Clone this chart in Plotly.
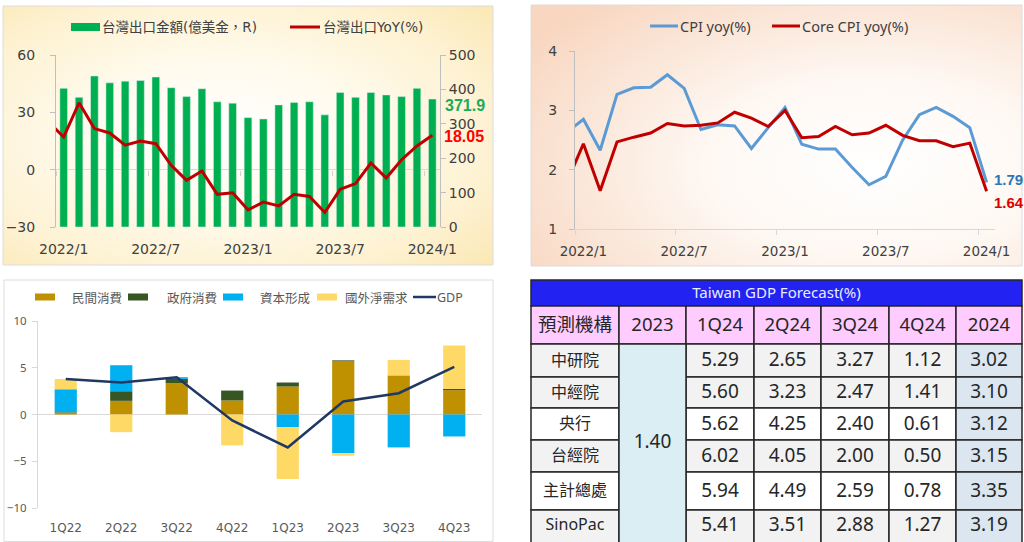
import base64
import plotly.graph_objects as go

W, H = 1024, 542


def px(x):
    return x / W


def py(y):
    return 1 - y / H


# ------------------------------------------------------------------ data
# Panel 1: Taiwan exports
export_months = ["2022/1", "2022/2", "2022/3", "2022/4", "2022/5", "2022/6", "2022/7",
                 "2022/8", "2022/9", "2022/10", "2022/11", "2022/12", "2023/1", "2023/2",
                 "2023/3", "2023/4", "2023/5", "2023/6", "2023/7", "2023/8", "2023/9",
                 "2023/10", "2023/11", "2023/12", "2024/1"]
export_value = [403, 377, 439, 419, 424, 426, 436, 405, 379, 402, 364, 360, 318, 314,
                355, 362, 364, 326, 391, 377, 391, 384, 379, 403, 371.9]
# YoY series starts one month earlier (2021/12), its first segment is clipped by the axis
export_yoy_prev = 25.0
export_yoy = [17.1, 35.0, 21.5, 19.2, 12.8, 15.0, 13.6, 2.3, -5.6, -0.7, -12.9, -12.1,
              -21.0, -17.0, -19.0, -12.9, -14.0, -22.4, -10.3, -7.3, 3.5, -4.4, 5.2, 12.4, 18.05]
month_tick_labels = ["2022/1", "2022/7", "2023/1", "2023/7", "2024/1"]

# Panel 2: CPI
cpi_prev, core_prev = 2.63, 1.78
cpi_yoy = [2.85, 2.33, 3.27, 3.38, 3.39, 3.60, 3.37, 2.68, 2.76, 2.74, 2.36, 2.71,
           3.05, 2.43, 2.35, 2.35, 2.04, 1.75, 1.89, 2.50, 2.93, 3.05, 2.90, 2.71, 1.79]
core_cpi_yoy = [2.44, 1.65, 2.47, 2.55, 2.62, 2.78, 2.74, 2.75, 2.79, 2.97, 2.87, 2.73,
                3.00, 2.54, 2.56, 2.73, 2.59, 2.62, 2.75, 2.58, 2.49, 2.49, 2.39, 2.45, 1.64]

# Panel 3: GDP contribution
quarters = ["1Q22", "2Q22", "3Q22", "4Q22", "1Q23", "2Q23", "3Q23", "4Q23"]
private_consumption = [0.20, 1.46, 3.35, 1.50, 2.99, 5.69, 4.13, 2.60]
government_consumption = [0.05, 1.03, 0.46, 1.06, 0.43, 0.10, 0.04, 0.14]
capital_formation = [2.45, 2.78, 0.18, 0.00, -1.35, -4.13, -3.52, -2.35]
net_external_demand = [1.10, -1.89, 0.00, -3.30, -5.55, -0.28, 1.67, 4.63]
gdp_growth = [3.80, 3.42, 3.99, -0.64, -3.52, 1.39, 2.28, 5.09]

# Panel 4: forecast table
table_title = "Taiwan GDP Forecast(%)"
table_header = ["預測機構", "2023", "1Q24", "2Q24", "3Q24", "4Q24", "2024"]
institutions = ["中研院", "中經院", "央行", "台經院", "主計總處", "SinoPac"]
gdp_2023 = 1.40
f_1q24 = [5.29, 5.60, 5.62, 6.02, 5.94, 5.41]
f_2q24 = [2.65, 3.23, 4.25, 4.05, 4.49, 3.51]
f_3q24 = [3.27, 2.47, 2.40, 2.00, 2.59, 2.88]
f_4q24 = [1.12, 1.41, 0.61, 0.50, 0.78, 1.27]
f_2024 = [3.02, 3.10, 3.12, 3.15, 3.35, 3.19]

# ------------------------------------------------------------------ styles
CJK = "Noto Sans CJK TC"
SANS = "Noto Sans, Noto Sans CJK TC, sans-serif"
DJV = "DejaVu Sans, Noto Sans CJK TC, sans-serif"
GREEN = "#00b050"
DRED = "#c00000"
CPI_BLUE = "#5b9bd5"

fig = go.Figure()

# ------------------------------------------------------------------ panel 1
n = len(export_value)
xm = list(range(n))
xl = [-1] + xm
tickpos = list(range(0, n, 6))

fig.add_trace(go.Bar(x=xm, y=export_value, xaxis="x", yaxis="y", marker_color=GREEN,
                     width=0.5, showlegend=False, hoverinfo="skip"))
fig.add_trace(go.Scatter(x=xl, y=[export_yoy_prev] + export_yoy, xaxis="x3", yaxis="y2",
                         mode="lines", line=dict(color=DRED, width=3),
                         showlegend=False, hoverinfo="skip"))

# ------------------------------------------------------------------ panel 2
fig.add_trace(go.Scatter(x=xl, y=[cpi_prev] + cpi_yoy, xaxis="x2", yaxis="y3", mode="lines",
                         line=dict(color=CPI_BLUE, width=3), showlegend=False, hoverinfo="skip"))
fig.add_trace(go.Scatter(x=xl, y=[core_prev] + core_cpi_yoy, xaxis="x2", yaxis="y3", mode="lines",
                         line=dict(color=DRED, width=3), showlegend=False, hoverinfo="skip"))

# ------------------------------------------------------------------ panel 3
xq = list(range(len(quarters)))
for vals, col in [(private_consumption, "#bf9000"), (government_consumption, "#375623"),
                  (capital_formation, "#00b0f0"), (net_external_demand, "#ffd966")]:
    fig.add_trace(go.Bar(x=xq, y=vals, xaxis="x4", yaxis="y4", marker_color=col,
                         marker_line_width=0, width=0.4, showlegend=False, hoverinfo="skip"))
fig.add_trace(go.Scatter(x=xq, y=gdp_growth, xaxis="x4", yaxis="y4", mode="lines",
                         line=dict(color="#1f3864", width=2.5), showlegend=False, hoverinfo="skip"))

# ------------------------------------------------------------------ panel 4 (table)
col_edges = [531, 619, 686, 754, 821, 889, 956, 1022]
title_band = (280, 306)
header_band = (306, 344)
row_edges = [344, 377, 408, 440, 472, 510, 545]
BORDER = "#262626"
row_fill = ["#f2f2f2", "#f2f2f2", "#ffffff", "#f2f2f2", "#ffffff", "#f2f2f2"]

shapes = []


def cell(x0, y0, x1, y1, fill, lw=1.5):
    shapes.append(dict(type="rect", xref="x5", yref="y5", x0=x0, x1=x1, y0=y0, y1=y1,
                       fillcolor=fill, line=dict(color=BORDER, width=lw), layer="below"))


cell(col_edges[0], title_band[0], col_edges[-1], title_band[1], "#2222f2")
for i in range(len(table_header)):
    cell(col_edges[i], header_band[0], col_edges[i + 1], header_band[1], "#ffccff")
for r in range(len(institutions)):
    y0, y1 = row_edges[r], row_edges[r + 1]
    cell(col_edges[0], y0, col_edges[1], y1, row_fill[r])
    for c in range(2, 6):
        cell(col_edges[c], y0, col_edges[c + 1], y1, row_fill[r])
    cell(col_edges[6], y0, col_edges[7], y1, "#dce6f1")
cell(col_edges[1], row_edges[0], col_edges[2], row_edges[-1], "#daeef3")

cx = [(col_edges[i] + col_edges[i + 1]) / 2 for i in range(len(col_edges) - 1)]
ry = [(row_edges[i] + row_edges[i + 1]) / 2 + 1 for i in range(len(row_edges) - 1)]
ry[-1] = (row_edges[-2] + 540) / 2 + 1
TXT = "#262626"

fig.add_trace(go.Scatter(x=[(col_edges[0] + col_edges[-1]) / 2], y=[sum(title_band) / 2 + 1],
                         text=[table_title], mode="text", xaxis="x5", yaxis="y5",
                         textfont=dict(family=SANS, size=15, color="#e8eeff"),
                         showlegend=False, hoverinfo="skip"))
fig.add_trace(go.Scatter(x=cx, y=[sum(header_band) / 2 + 1] * len(cx), text=table_header,
                         mode="text", xaxis="x5", yaxis="y5",
                         textfont=dict(family=SANS, size=18.5, color=TXT),
                         showlegend=False, hoverinfo="skip"))
fig.add_trace(go.Scatter(x=[cx[0]] * len(institutions), y=ry, text=institutions,
                         mode="text", xaxis="x5", yaxis="y5",
                         textfont=dict(family=SANS, size=16, color=TXT),
                         showlegend=False, hoverinfo="skip"))
fig.add_trace(go.Scatter(x=[cx[1]], y=[(row_edges[0] + 542) / 2], text=[f"{gdp_2023:.2f}"],
                         mode="text", xaxis="x5", yaxis="y5",
                         textfont=dict(family=SANS, size=19, color=TXT),
                         showlegend=False, hoverinfo="skip"))
for j, vals in enumerate([f_1q24, f_2q24, f_3q24, f_4q24, f_2024]):
    fig.add_trace(go.Scatter(x=[cx[j + 2]] * len(vals), y=ry, text=[f"{v:.2f}" for v in vals],
                             mode="text", xaxis="x5", yaxis="y5",
                             textfont=dict(family=SANS, size=19, color=TXT),
                             showlegend=False, hoverinfo="skip"))

# ------------------------------------------------------------------ frames & legends
for (x0, y0, x1, y1) in [(3, 6, 493, 265), (531, 5, 1022, 266), (4, 280, 493, 541.5)]:
    shapes.append(dict(type="rect", xref="paper", yref="paper", x0=px(x0), x1=px(x1),
                       y0=py(y1), y1=py(y0), line=dict(color="#dcdcdc", width=1),
                       fillcolor="rgba(0,0,0,0)", layer="below"))

annotations = []


def legend_patch(x0, x1, yc, h, color):
    shapes.append(dict(type="rect", xref="paper", yref="paper", x0=px(x0), x1=px(x1),
                       y0=py(yc + h / 2), y1=py(yc - h / 2), fillcolor=color,
                       line=dict(width=0), layer="above"))


def legend_line(x0, x1, yc, color, w):
    shapes.append(dict(type="line", xref="paper", yref="paper", x0=px(x0), x1=px(x1),
                       y0=py(yc), y1=py(yc), line=dict(color=color, width=w), layer="above"))


def text(x, y, s, size, color, family=CJK, anchor="left", bold=False):
    annotations.append(dict(xref="paper", yref="paper", x=px(x), y=py(y), text=f"<b>{s}</b>" if bold else s,
                            showarrow=False, xanchor=anchor, yanchor="middle",
                            font=dict(family=family, size=size, color=color)))


# panel 1 legend
legend_patch(71, 100, 27, 8, GREEN)
text(100, 27, "台灣出口金額(億美金，R)", 13.5, "#404040", family=DJV)
legend_line(290, 320, 27, DRED, 3)
text(321, 27, "台灣出口YoY(%)", 13.5, "#404040", family=DJV)
# panel 2 legend
legend_line(650, 678, 26, CPI_BLUE, 3)
text(678, 26, "CPI yoy(%)", 14.5, "#404040", family=SANS)
legend_line(772, 800, 26, DRED, 3)
text(800, 26, "Core CPI yoy(%)", 14.5, "#404040", family=SANS)
# panel 3 legend
for x0, lab, col, tx in [(35, "民間消費", "#bf9000", 70), (128, "政府消費", "#375623", 165),
                         (223, "資本形成", "#00b0f0", 258), (317, "國外淨需求", "#ffd966", 343)]:
    legend_patch(x0, x0 + 20, 297, 7, col)
    text(tx, 297, lab, 12.5, "#595959")
legend_line(413, 436, 297, "#1f3864", 2.5)
text(435, 297, "GDP", 12.5, "#595959", family=SANS)

# end-value labels
annotations.append(dict(xref="paper", yref="y", x=px(443), y=export_value[-1], yshift=-6,
                        text=f"<b>{export_value[-1]:.1f}</b>", showarrow=False, xanchor="left",
                        font=dict(family="Liberation Sans", size=16, color="#1aab5a")))
annotations.append(dict(xref="paper", yref="y2", x=px(442), y=export_yoy[-1], yshift=-1,
                        text=f"<b>{export_yoy[-1]:.2f}</b>", showarrow=False, xanchor="left",
                        font=dict(family="Liberation Sans", size=16, color="#ff0000")))
annotations.append(dict(xref="x2", yref="y3", x=n - 1, y=cpi_yoy[-1], xshift=5, yshift=3,
                        text=f"<b>{cpi_yoy[-1]:.2f}</b>", showarrow=False, xanchor="left",
                        font=dict(family="Liberation Sans", size=15, color="#2e75b6")))
annotations.append(dict(xref="x2", yref="y3", x=n - 1, y=core_cpi_yoy[-1], xshift=5, yshift=-11,
                        text=f"<b>{core_cpi_yoy[-1]:.2f}</b>", showarrow=False, xanchor="left",
                        font=dict(family="Liberation Sans", size=15, color="#e00000")))


# ------------------------------------------------------------------ backgrounds
def grad(cx_, cy_, r_, stops):
    s = "".join(f'<stop offset="{o}" stop-color="{c}"/>' for o, c in stops)
    svg = ('<svg xmlns="http://www.w3.org/2000/svg" width="400" height="200" viewBox="0 0 400 200" '
           'preserveAspectRatio="none"><defs><radialGradient id="g" cx="%s" cy="%s" r="%s">%s'
           '</radialGradient></defs><rect width="400" height="200" fill="url(#g)"/></svg>'
           % (cx_, cy_, r_, s))
    return "data:image/svg+xml;base64," + base64.b64encode(svg.encode()).decode()


images = [
    dict(source=grad(0.45, 0.5, 0.75, [(0, "#ffffff"), (0.35, "#fffbef"), (0.75, "#fdf1d0"), (1, "#fbe7b2")]),
         xref="paper", yref="paper", x=px(3), y=py(6), sizex=px(493) - px(3), sizey=(265 - 6) / H,
         xanchor="left", yanchor="top", sizing="stretch", layer="below"),
    dict(source=grad(0.7, 0.62, 0.85, [(0, "#ffffff"), (0.4, "#fef8f3"), (1, "#f8d6c0")]),
         xref="paper", yref="paper", x=px(531), y=py(5), sizex=px(1022) - px(531), sizey=(266 - 5) / H,
         xanchor="left", yanchor="top", sizing="stretch", layer="below"),
]

AX = "#bfbfbf"
fig.update_layout(
    width=W, height=H, margin=dict(l=0, r=0, t=0, b=0, pad=0, autoexpand=False), autosize=False,
    paper_bgcolor="white", plot_bgcolor="rgba(0,0,0,0)", barmode="relative", hovermode=False,
    showlegend=False, shapes=shapes, annotations=annotations, images=images,
    # panel 1
    xaxis=dict(domain=[px(56), px(440)], range=[-0.5, n - 0.5], anchor="y", automargin=False,
               tickvals=tickpos, ticktext=month_tick_labels, ticks="outside", ticklen=9,
               tickcolor="rgba(0,0,0,0)", showline=False, showgrid=False, zeroline=False,
               tickfont=dict(family=DJV, size=14, color="#404040")),
    xaxis3=dict(overlaying="x", anchor="free", position=py(169.5), range=[-0.5, n - 0.5],
                automargin=False,
                tickvals=[p - 0.5 for p in tickpos], showticklabels=False, ticks="outside",
                ticklen=5, tickcolor="#d0d0d0", showline=False, showgrid=False, zeroline=False),
    yaxis=dict(domain=[py(227), py(55)], range=[0, 500], side="right", anchor="x", automargin=False,
               tickvals=[0, 100, 200, 300, 400, 500], showline=True, linecolor=AX, ticks="outside",
               ticklen=5, tickcolor=AX, showgrid=False, zeroline=False,
               tickfont=dict(family=DJV, size=14, color="#404040")),
    yaxis2=dict(overlaying="y", side="left", anchor="x3", range=[-30, 60], tickvals=[-30, 0, 30, 60],
                automargin=False,
                showline=True, linecolor=AX, ticks="outside", ticklen=5, tickcolor=AX, showgrid=False,
                zeroline=True, zerolinecolor="#d9d9d9", zerolinewidth=1, ticklabelstandoff=12,
                tickfont=dict(family=DJV, size=14, color="#404040")),
    # panel 2
    xaxis2=dict(domain=[px(575), px(995)], range=[-0.5, n - 0.5], anchor="y3", automargin=False,
                tickvals=tickpos, ticktext=month_tick_labels, ticks="outside", ticklen=9,
                tickcolor="rgba(0,0,0,0)", showline=True, linecolor="#d3d9e0", showgrid=False,
                zeroline=False, tickfont=dict(family=DJV, size=13.5, color="#404040"),
                minor=dict(tickmode="array", tickvals=[p - 0.5 for p in tickpos], ticks="outside",
                           ticklen=5, tickcolor="#d3d9e0", showgrid=False)),
    yaxis3=dict(domain=[py(229.3), py(51)], range=[1, 4], dtick=1, anchor="x2", showline=True,
                automargin=False,
                linecolor=AX, ticks="outside", ticklen=5, tickcolor=AX, showgrid=False, zeroline=False,
                ticklabelstandoff=9, tickfont=dict(family=DJV, size=14, color="#404040")),
    # panel 3
    xaxis4=dict(domain=[px(38), px(482)], range=[-0.5, len(quarters) - 0.5], anchor="y4",
                automargin=False,
                tickvals=xq, ticktext=quarters, ticks="outside", ticklen=9, tickcolor="rgba(0,0,0,0)",
                showline=False, showgrid=False, zeroline=False,
                tickfont=dict(family=DJV, size=12, color="#595959")),
    yaxis4=dict(domain=[py(508), py(321)], range=[-10, 10], dtick=5, anchor="x4", showline=True,
                automargin=False,
                linecolor="#d9d9d9", ticks="outside", ticklen=5, tickcolor="#d9d9d9", showgrid=False,
                zeroline=True, zerolinecolor="#d9d9d9", zerolinewidth=1.5, ticklabelstandoff=3,
                tickfont=dict(family=SANS, size=11.5, color="#595959")),
    # panel 4 (table canvas)
    xaxis5=dict(domain=[0.5, 1.0], range=[512, 1024], anchor="y5", visible=False, fixedrange=True,
                automargin=False),
    yaxis5=dict(domain=[0, py(270)], range=[542, 270], anchor="x5", visible=False, fixedrange=True,
                automargin=False),
)

fig.write_html("out.html", config={"displayModeBar": False, "staticPlot": True},
               post_script="document.body.style.margin='0';document.body.style.overflow='hidden';")
